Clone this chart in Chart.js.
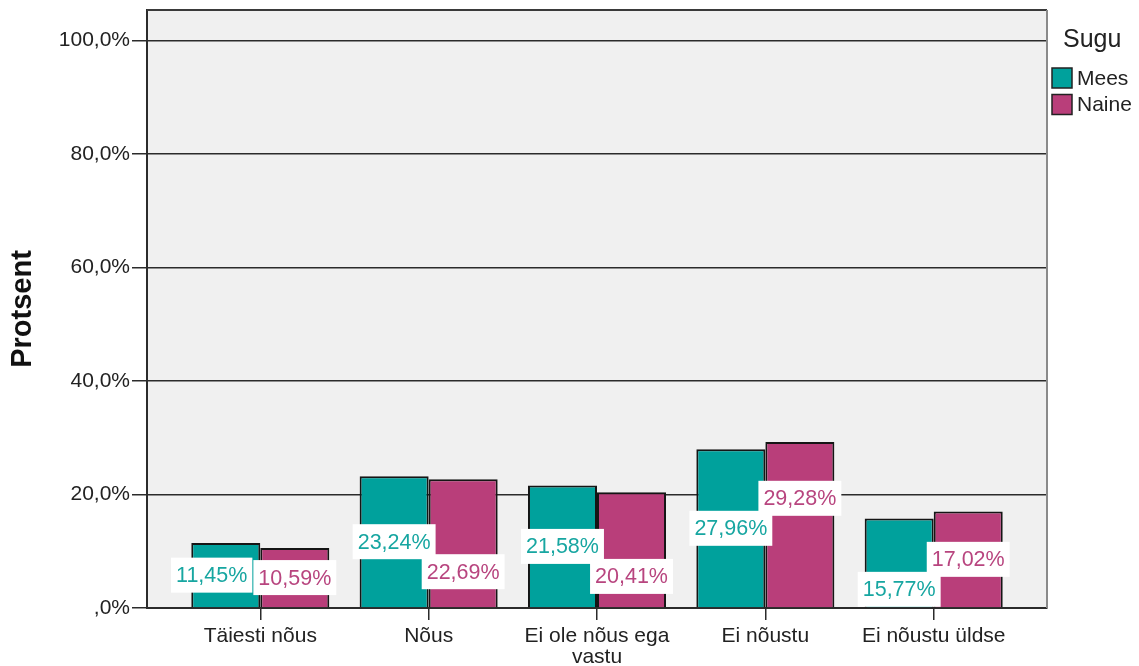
<!DOCTYPE html>
<html>
<head>
<meta charset="utf-8">
<script src="https://cdn.jsdelivr.net/npm/chart.js@4"></script>
<style>
    html, body { margin: 0; padding: 0; background: #fff; }
    #wrap { width: 1139px; height: 666px; position: relative; }
</style>
</head>
<body>
<div id="wrap"><canvas id="grafik"></canvas></div>
<script>
const kategooriad = ['Täiesti nõus', 'Nõus', ['Ei ole nõus ega', 'vastu'], 'Ei nõustu', 'Ei nõustu üldse'];
const mees = [11.45, 23.24, 21.58, 27.96, 15.77];
const naine = [10.59, 22.69, 20.41, 29.28, 17.02];
const yTikid = [0, 20, 40, 60, 80, 100];

const fontNimi = '"Liberation Sans", Arial, sans-serif';
const tumeJoon = '#2b2b2b';

function protsent(v) {
    if (v === 0) return ',0%';
    return v.toFixed(1).replace('.', ',') + '%';
}

// plot background and frame
const raamPlugin = {
    id: 'raam',
    beforeDraw(chart) {
        const { ctx, chartArea: a } = chart;
        ctx.save();
        ctx.fillStyle = '#fff';
        ctx.fillRect(0, 0, chart.width, chart.height);
        ctx.fillStyle = '#f0f0f0';
        ctx.fillRect(a.left, a.top, a.right - a.left, a.bottom - a.top);
        ctx.restore();
    },
    afterDraw(chart) {
        const { ctx, chartArea: a } = chart;
        ctx.save();
        ctx.lineWidth = 2;
        ctx.strokeStyle = '#3a3a3a';
        ctx.beginPath();
        ctx.moveTo(a.left, a.top);
        ctx.lineTo(a.right, a.top);
        ctx.stroke();
        ctx.strokeStyle = '#8a8a8a';
        ctx.beginPath();
        ctx.moveTo(a.right, a.top);
        ctx.lineTo(a.right, a.bottom);
        ctx.stroke();
        ctx.restore();
    }
};

// legend on the right side
const legendPlugin = {
    id: 'legend2',
    afterDraw(chart) {
        const { ctx, chartArea: a } = chart;
        const x = a.right + 5;
        ctx.save();
        ctx.fillStyle = '#222';
        ctx.textBaseline = 'middle';
        ctx.textAlign = 'left';
        ctx.font = '25px ' + fontNimi;
        ctx.fillText('Sugu', x + 11, 40);
        ctx.font = '21px ' + fontNimi;
        chart.data.datasets.forEach((ds, i) => {
            const y = 68 + i * 26.5;
            ctx.fillStyle = ds.backgroundColor;
            ctx.fillRect(x, y, 20, 20);
            ctx.lineWidth = 1.5;
            ctx.strokeStyle = '#222';
            ctx.strokeRect(x, y, 20, 20);
            ctx.fillStyle = '#222';
            ctx.fillText(ds.label, x + 25, y + 11);
        });
        ctx.restore();
    }
};

// value labels in white boxes
const siltPlugin = {
    id: 'sildid',
    afterDatasetsDraw(chart) {
        const { ctx } = chart;
        const m0 = chart.getDatasetMeta(0).data;
        const m1 = chart.getDatasetMeta(1).data;
        const h = 35;
        const vahe = 30;
        ctx.save();
        ctx.font = '21.5px ' + fontNimi;
        ctx.textAlign = 'center';
        ctx.textBaseline = 'middle';

        function sobib(y, el) {
            return y - h / 2 >= el.y + 6 && y + h / 2 <= el.base + 2;
        }

        for (let i = 0; i < m0.length; i++) {
            const e0 = m0[i], e1 = m1[i];
            const t0 = mees[i].toFixed(2).replace('.', ',') + '%';
            const t1 = naine[i].toFixed(2).replace('.', ',') + '%';
            const w0 = ctx.measureText(t0).width + 10;
            const w1 = ctx.measureText(t1).width + 10;
            let x0 = e0.x, x1 = e1.x;
            let y0 = (e0.y + e0.base) / 2;
            let y1 = (e1.y + e1.base) / 2;

            const xKattub = (x0 + w0 / 2) - (x1 - w1 / 2);
            const yKattub = Math.abs(y0 - y1) < h;
            if (xKattub > 0 && yKattub) {
                const naineKorgem = naine[i] > mees[i];
                const uusY1 = naineKorgem ? y0 - vahe : y0 + vahe;
                if (sobib(uusY1, e1)) {
                    y1 = uusY1;
                } else {
                    const uusY0 = naineKorgem ? y1 + vahe : y1 - vahe;
                    if (sobib(uusY0, e0)) {
                        y0 = uusY0;
                    } else {
                        x0 -= xKattub + 1;
                    }
                }
            }

            [[x0, y0, w0, t0, '#17a6a1'], [x1, y1, w1, t1, '#b8457f']].forEach(s => {
                ctx.fillStyle = '#fff';
                ctx.fillRect(s[0] - s[2] / 2, s[1] - h / 2, s[2], h);
                ctx.fillStyle = s[4];
                ctx.fillText(s[3], s[0], s[1] + 1);
            });
        }
        ctx.restore();
    }
};

const ctx = document.getElementById('grafik').getContext('2d');
const chart = new Chart(ctx, {
    type: 'bar',
    data: {
        datasets: [{
            label: 'Mees',
            data: mees.map((v, i) => ({ x: i, y: v })),
            backgroundColor: '#00a19c',
            borderColor: '#151515',
            borderWidth: 2,
            borderSkipped: 'start'
        }, {
            label: 'Naine',
            data: naine.map((v, i) => ({ x: i, y: v })),
            backgroundColor: '#b93e7a',
            borderColor: '#151515',
            borderWidth: 2,
            borderSkipped: 'start'
        }]
    },
    options: {
        responsive: true,
        maintainAspectRatio: false,
        animation: false,
        categoryPercentage: 0.82,
        barPercentage: 1,
        layout: { padding: { top: 10, right: 92, left: 0, bottom: 0 } },
        plugins: {
            legend: { display: false },
            tooltip: { enabled: false }
        },
        scales: {
            x: {
                type: 'linear',
                offset: false,
                min: -0.673,
                max: 4.673,
                afterBuildTicks: (scale) => {
                    scale.ticks = kategooriad.map((k, i) => ({ value: i }));
                },
                afterFit: (scale) => {
                    scale.height = 58;
                    scale.paddingLeft = 0;
                    scale.paddingRight = 0;
                },
                ticks: {
                    autoSkip: false,
                    maxRotation: 0,
                    padding: 6,
                    color: '#222',
                    font: { family: fontNimi, size: 21, lineHeight: 1.0 },
                    callback: (v) => kategooriad[v]
                },
                grid: {
                    offset: false,
                    drawOnChartArea: false,
                    drawTicks: true,
                    tickLength: 12,
                    color: tumeJoon,
                    lineWidth: 1.5
                },
                border: { color: tumeJoon, width: 2 }
            },
            y: {
                min: 0,
                max: 105.4,
                afterBuildTicks: (scale) => {
                    scale.ticks = yTikid.map(v => ({ value: v }));
                },
                afterFit: (scale) => {
                    scale.width = 147;
                    scale.paddingTop = 0;
                    scale.paddingBottom = 0;
                },
                ticks: {
                    padding: 2,
                    color: '#222',
                    font: { family: fontNimi, size: 21 },
                    callback: (v) => protsent(v)
                },
                grid: {
                    color: tumeJoon,
                    lineWidth: 1.5,
                    tickLength: 15
                },
                border: { color: tumeJoon, width: 2 },
                title: {
                    display: true,
                    text: 'Protsent',
                    color: '#111',
                    font: { family: fontNimi, size: 29, weight: 'bold' },
                    padding: { top: 6, bottom: 0 }
                }
            }
        }
    },
    plugins: [raamPlugin, siltPlugin, legendPlugin]
});
</script>
</body>
</html>
